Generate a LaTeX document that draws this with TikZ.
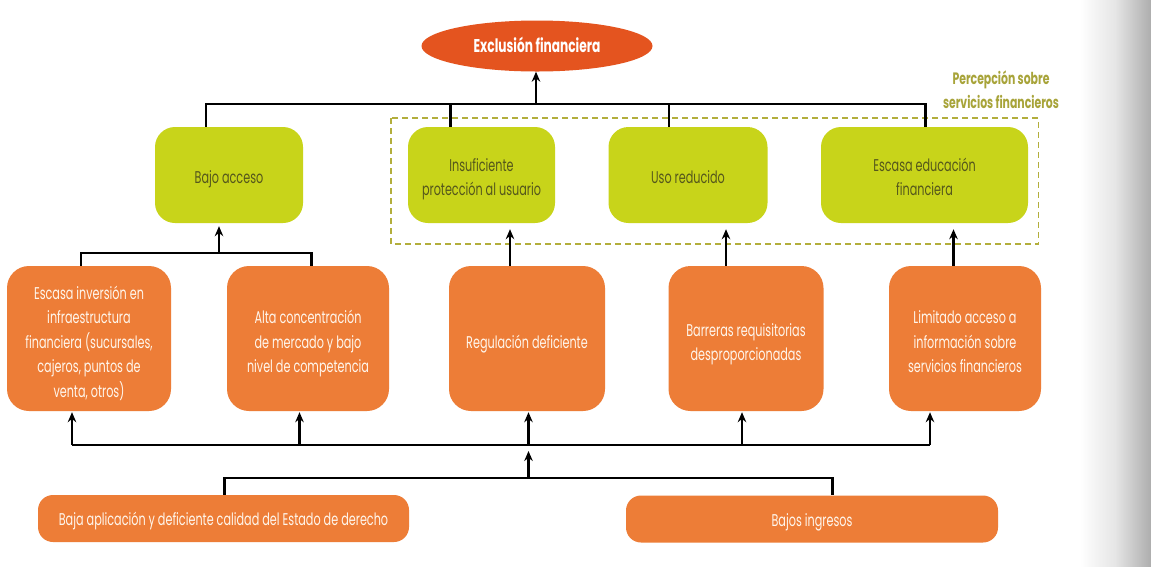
\documentclass[tikz,border=0pt]{standalone}
\usepackage{fontspec}
\setmainfont{Poppins}[FakeStretch=0.66]
\usetikzlibrary{arrows.meta,shapes.geometric}
\definecolor{orangebox}{HTML}{ED7D37}
\definecolor{greenbox}{HTML}{C8D41A}
\definecolor{redell}{HTML}{E4541F}
\definecolor{olivedash}{HTML}{B3AE3C}
\definecolor{olivetext}{HTML}{A8A43A}
\definecolor{greentext}{HTML}{55571C}
\definecolor{cream}{HTML}{FFF6EC}
\newcommand\shd[2][-3.5pt]{\raisebox{#1}[\height][\depth]{\begin{tabular}{@{}c@{}}#2\end{tabular}}}
\tikzset{
  txt/.style={font=\fontsize{17}{24.5}\selectfont, align=center, inner sep=0pt},
  obox/.style={txt, fill=orangebox, text=cream, rounded corners=22pt, minimum height=145pt},
  gbox/.style={txt, fill=greenbox, text=greentext, rounded corners=20pt, minimum height=96pt},
  bbox/.style={txt, fill=orangebox, text=cream, rounded corners=15pt, minimum height=47pt},
  wire/.style={draw=black, line width=2.1pt},
  arr/.style={wire, -{Stealth[length=10pt,width=8.5pt]}},
}
\begin{document}
\begin{tikzpicture}[x=1pt,y=-1pt]
\useasboundingbox (0,0) rectangle (1151,566);
\fill[white] (0,0) rectangle (1151,566);
\shade[left color=white, right color=black!10] (1080,0) rectangle (1115,566);
\shade[left color=black!10, right color=black!32] (1115,0) rectangle (1151,566);

% top ellipse
\node[ellipse, fill=redell, text=white, minimum width=231pt, minimum height=51pt, inner sep=0pt,
      font=\fontsize{18.5}{20}\selectfont\bfseries] (ex) at (537,46) {\shd[-1.5pt]{Exclusión financiera}};

% dashed group
\draw[olivedash, line width=1.9pt, dash pattern=on 6pt off 4pt] (391,118) rectangle (1038.5,244);
\node[font=\fontsize{16.5}{24}\selectfont\bfseries, text=olivetext, align=center, inner sep=0pt]
  (perc) at (1001,89.5) {\shd[-2pt]{Percepción sobre\\servicios financieros}};

% green boxes
\node[gbox, minimum width=148pt] (ba) at (229,175) {\shd{Bajo acceso}};
\node[gbox, minimum width=147pt] (ins) at (481.5,175) {\shd{Insuficiente\\protección al usuario}};
\node[gbox, minimum width=159pt] (uso) at (688,175) {\shd{Uso reducido}};
\node[gbox, minimum width=207pt] (edu) at (924.5,175) {\shd{Escasa educación\\financiera}};

% orange boxes
\node[obox, minimum width=164pt] (ei) at (89,338.5) {\shd[-5pt]{Escasa inversión en\\infraestructura\\financiera (sucursales,\\cajeros, puntos de\\venta, otros)}};
\node[obox, minimum width=162pt] (ac) at (308,338.5) {\shd[-5pt]{Alta concentración\\de mercado y bajo\\nivel de competencia}};
\node[obox, minimum width=156pt] (rd) at (527,338.5) {\shd[-5pt]{Regulación deficiente}};
\node[obox, minimum width=155pt] (br) at (746,338.5) {\shd[-5pt]{Barreras requisitorias\\desproporcionadas}};
\node[obox, minimum width=152pt] (la) at (965,338.5) {\shd[-5pt]{Limitado acceso a\\información sobre\\servicios financieros}};

% bottom boxes
\node[bbox, minimum width=371pt] (bap) at (223.5,518.5) {\shd[-2.5pt]{Baja aplicación y deficiente calidad del Estado de derecho}};
\node[bbox, minimum width=372pt] (bi) at (812,519) {\shd[-2.5pt]{Bajos ingresos}};

% top bus
\coordinate (t1) at (206,104);
\coordinate (t2) at (450.5,104);
\coordinate (t3) at (669,104);
\coordinate (t4) at (925.5,104);
\coordinate (tA) at (536,104);
\draw[wire] (ba.north -| t1) -- (t1) -- (t4) -- (edu.north -| t4);
\draw[wire] (ins.north -| t2) -- (t2);
\draw[wire] (uso.north -| t3) -- (t3);
\draw[arr] (tA) -- (ex.south -| tA);

% bajo acceso bus
\coordinate (b1) at (81,253);
\coordinate (b2) at (311.5,253);
\coordinate (bA) at (219,253);
\draw[wire] (ei.north -| b1) -- (b1) -- (b2) -- (ac.north -| b2);
\draw[arr, shorten >=3pt] (bA) -- (ba.south -| bA);

% orange to green arrows
\coordinate (g1) at (510,0);
\coordinate (g2) at (726,0);
\coordinate (g3) at (953.5,0);
\draw[arr, shorten >=6pt] (rd.north -| g1) -- (ins.south -| g1);
\draw[arr, shorten >=6pt] (br.north -| g2) -- (uso.south -| g2);
\draw[arr, shorten >=6pt] (la.north -| g3) -- (edu.south -| g3);

% lower bus
\coordinate (l1) at (72,445);
\coordinate (l2) at (299.5,445);
\coordinate (l3) at (528.5,445);
\coordinate (l4) at (742,445);
\coordinate (l5) at (930,445);
\draw[wire] (l1) -- (l5);
\draw[arr, shorten >=1pt] (l1) -- (ei.south -| l1);
\draw[arr, shorten >=1pt] (l2) -- (ac.south -| l2);
\draw[arr, shorten >=1pt] (l3) -- (rd.south -| l3);
\draw[arr, shorten >=1pt] (l4) -- (br.south -| l4);
\draw[arr, shorten >=1pt] (l5) -- (la.south -| l5);

% bottom bus
\coordinate (m1) at (224.5,478);
\coordinate (m2) at (832.5,478);
\coordinate (mA) at (528.5,478);
\draw[wire] (bap.north -| m1) -- (m1) -- (m2) -- (bi.north -| m2);
\draw[arr, shorten >=6pt] (mA) -- (l3);
\end{tikzpicture}
\end{document}
